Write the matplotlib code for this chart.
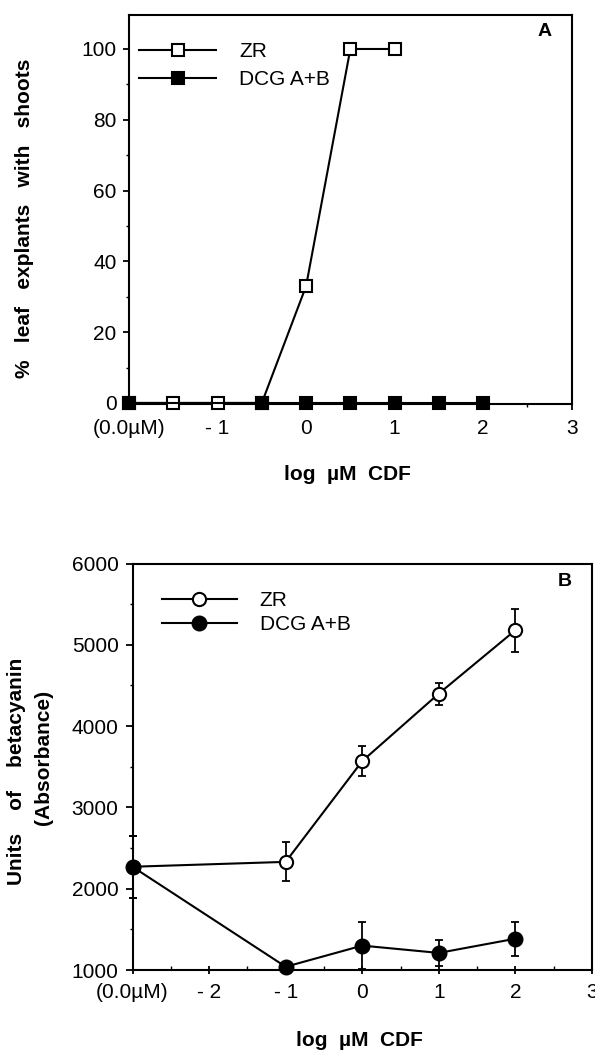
import matplotlib
matplotlib.use('Agg')
import matplotlib.pyplot as plt
from matplotlib.ticker import MultipleLocator, FixedLocator, FixedFormatter

plt.rcParams['font.family'] = ['Liberation Sans', 'DejaVu Sans']

# ---------------- data ----------------
# Panel A
a_zr_x = [-2, -1.5, -1, -0.5, 0, 0.5, 1]
a_zr_y = [0, 0, 0, 0, 33, 100, 100]
a_dcg_x = [-2, -0.5, 0, 0.5, 1, 1.5, 2]
a_dcg_y = [0, 0, 0, 0, 0, 0, 0]
a_xticks = [-2, -1, 0, 1, 2, 3]
a_xticklabels = ['(0.0µM)', '- 1', '0', '1', '2', '3']
a_yticks = [0, 20, 40, 60, 80, 100]

# Panel B
b_x = [-3, -1, 0, 1, 2]
b_zr_y = [2270, 2330, 3570, 4400, 5180]
b_zr_err = [380, 240, 180, 135, 265]
b_dcg_y = [2270, 1040, 1300, 1210, 1385]
b_dcg_err = [380, 30, 290, 155, 210]
b_xticks = [-3, -2, -1, 0, 1, 2, 3]
b_xticklabels = ['(0.0µM)', '- 2', '- 1', '0', '1', '2', '3']
b_yticks = [1000, 2000, 3000, 4000, 5000, 6000]

series_labels = ['ZR', 'DCG A+B']

W, H = 595, 1051
fig = plt.figure(figsize=(W / 100, H / 100), dpi=100)

def frac_box(l, t, r, b):
    return [l / W, 1 - b / H, (r - l) / W, (b - t) / H]

LW = 1.5
TICKFS = 15
LEGFS = 15
LABFS = 15

# ---------------- Panel A ----------------
axA = fig.add_axes(frac_box(129, 15, 571.7, 404))
axA.plot(a_zr_x, a_zr_y, color='black', lw=LW, marker='s', ms=8.6,
         mfc='white', mec='black', mew=1.5, clip_on=False, zorder=3,
         label=series_labels[0])
axA.plot(a_dcg_x, a_dcg_y, color='black', lw=LW, marker='s', ms=8.6,
         mfc='black', mec='black', mew=1.5, clip_on=False, zorder=4,
         label=series_labels[1])
axA.set_xlim(-2, 3)
axA.set_ylim(-0.3, 109.6)
axA.xaxis.set_major_locator(FixedLocator(a_xticks))
axA.xaxis.set_major_formatter(FixedFormatter(a_xticklabels))
axA.xaxis.set_minor_locator(MultipleLocator(0.5))
axA.yaxis.set_major_locator(FixedLocator(a_yticks))
axA.yaxis.set_minor_locator(MultipleLocator(10))
axA.tick_params(axis='x', which='major', direction='out', length=4, width=1.3,
                pad=7, labelsize=TICKFS)
axA.tick_params(axis='x', which='minor', direction='out', length=2.5, width=1.0)
axA.tick_params(axis='y', which='major', direction='out', length=4.5, width=1.3,
                pad=4.5, labelsize=TICKFS)
axA.tick_params(axis='y', which='minor', direction='out', length=2.5, width=1.0)
for s in axA.spines.values():
    s.set_linewidth(1.5)
legA = axA.legend(loc='center left', bbox_to_anchor=(0.0233, 0.8697),
                  frameon=False, fontsize=LEGFS, handlelength=3.7,
                  handletextpad=1.1, labelspacing=0.42, borderpad=0,
                  borderaxespad=0, numpoints=1)

fig.text(24.7 / W, 1 - 218 / H, '%   leaf   explants   with   shoots',
         rotation=90, ha='center', va='center', fontsize=LABFS, fontweight='bold')
fig.text(347 / W, 1 - 475 / H, 'log  µM  CDF', ha='center', va='center',
         fontsize=LABFS, fontweight='bold')
fig.text(545 / W, 1 - 32 / H, 'A', ha='center', va='center', fontsize=14,
         fontweight='bold')

# ---------------- Panel B ----------------
axB = fig.add_axes(frac_box(132.5, 563.5, 592, 970))
axB.errorbar(b_x, b_zr_y, yerr=b_zr_err, fmt='none', ecolor='black',
             elinewidth=1.3, capsize=2.6, capthick=1.3, clip_on=False, zorder=2)
axB.errorbar(b_x, b_dcg_y, yerr=b_dcg_err, fmt='none', ecolor='black',
             elinewidth=1.3, capsize=2.6, capthick=1.3, clip_on=False, zorder=2)
axB.plot(b_x, b_zr_y, color='black', lw=LW, marker='o', ms=9.5,
         mfc='white', mec='black', mew=1.5, clip_on=False, zorder=3,
         label=series_labels[0])
axB.plot(b_x, b_dcg_y, color='black', lw=LW, marker='o', ms=10,
         mfc='black', mec='black', mew=1.5, clip_on=False, zorder=4,
         label=series_labels[1])
axB.set_xlim(-3, 3)
axB.set_ylim(1000, 6000)
axB.xaxis.set_major_locator(FixedLocator(b_xticks))
axB.xaxis.set_major_formatter(FixedFormatter(b_xticklabels))
axB.xaxis.set_minor_locator(MultipleLocator(0.5))
axB.yaxis.set_major_locator(FixedLocator(b_yticks))
axB.yaxis.set_minor_locator(MultipleLocator(500))
axB.tick_params(axis='x', which='major', direction='inout', length=6, width=1.3,
                pad=6, labelsize=TICKFS)
axB.tick_params(axis='x', which='minor', direction='in', length=3, width=1.0)
axB.tick_params(axis='y', which='major', direction='out', length=5, width=1.3,
                pad=5, labelsize=TICKFS)
axB.tick_params(axis='y', which='minor', direction='out', length=2.5, width=1.0)
for s in axB.spines.values():
    s.set_linewidth(1.5)
legB = axB.legend(loc='center left', bbox_to_anchor=(0.0635, 0.8795),
                  frameon=False, fontsize=LEGFS, handlelength=3.6,
                  handletextpad=1.1, labelspacing=0.25, borderpad=0,
                  borderaxespad=0, numpoints=1)

fig.text(17 / W, 1 - 771 / H, 'Units    of    betacyanin',
         rotation=90, ha='center', va='center', fontsize=LABFS, fontweight='bold')
fig.text(44 / W, 1 - 757 / H, '(Absorbance)',
         rotation=90, ha='center', va='center', fontsize=LABFS, fontweight='bold')
fig.text(359 / W, 1 - 1040 / H, 'log  µM  CDF', ha='center', va='center',
         fontsize=LABFS, fontweight='bold')
fig.text(565 / W, 1 - 582 / H, 'B', ha='center', va='center', fontsize=14,
         fontweight='bold')

fig.savefig('out.png', dpi=100)
